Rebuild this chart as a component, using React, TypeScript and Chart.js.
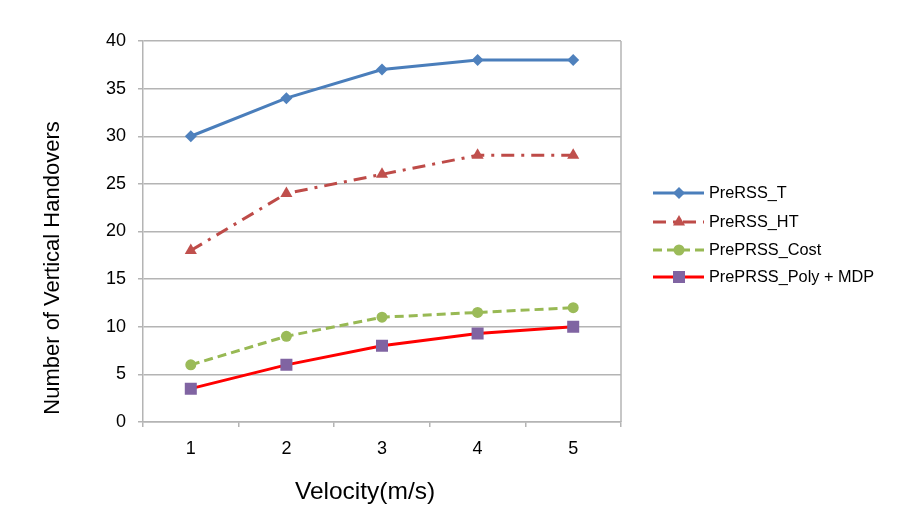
import React, { useEffect, useRef } from "react";
import { Chart, registerables } from "chart.js";

Chart.register(...registerables);

const velocity = ["1", "2", "3", "4", "5"];
const preRssT = [30, 34, 37, 38, 38];
const preRssHt = [18, 24, 26, 28, 28];
const prePrssCost = [6, 9, 11, 11.5, 12];
const prePrssPolyMdp = [3.5, 6, 8, 9.3, 10];

const FONT = "'Liberation Sans', Arial, sans-serif";
const GRID = "#b4b4b4";

type Marker = "diamond" | "triangle" | "circle" | "square";

function drawMarker(ctx: CanvasRenderingContext2D, kind: Marker, x: number, y: number, r: number, color: string) {
  ctx.save();
  ctx.fillStyle = color;
  ctx.beginPath();
  if (kind === "diamond") {
    ctx.moveTo(x - r, y);
    ctx.lineTo(x, y - r);
    ctx.lineTo(x + r, y);
    ctx.lineTo(x, y + r);
    ctx.closePath();
  } else if (kind === "triangle") {
    const h = r * 1.5;
    const s = r * Math.sqrt(3);
    ctx.moveTo(x, y - r);
    ctx.lineTo(x + s / 2, y - r + h);
    ctx.lineTo(x - s / 2, y - r + h);
    ctx.closePath();
  } else if (kind === "circle") {
    ctx.arc(x, y, r, 0, Math.PI * 2);
  } else {
    const s = r * Math.SQRT1_2;
    ctx.rect(x - s, y - s, 2 * s, 2 * s);
  }
  ctx.fill();
  ctx.restore();
}

const legendRows = [
  { label: "PreRSS_T", line: "#4a7ebb", marker: "#4f81bd", dash: [] as number[], shape: "diamond" as Marker, r: 6 },
  { label: "PreRSS_HT", line: "#be4b48", marker: "#c0504d", dash: [13, 7, 3, 7], shape: "triangle" as Marker, r: 7 },
  { label: "PrePRSS_Cost", line: "#98b954", marker: "#9bbb59", dash: [9, 5], shape: "circle" as Marker, r: 5.5 },
  { label: "PrePRSS_Poly + MDP", line: "#ff0000", marker: "#8064a2", dash: [] as number[], shape: "square" as Marker, r: 8.5 },
];

const decorPlugin = {
  id: "decor",
  beforeDatasetsDraw(chart: any) {
    const { ctx, chartArea } = chart;
    ctx.save();
    ctx.strokeStyle = GRID;
    ctx.lineWidth = 1.5;
    ctx.beginPath();
    ctx.moveTo(chartArea.right, chartArea.top);
    ctx.lineTo(chartArea.right, chartArea.bottom);
    ctx.stroke();
    ctx.restore();
  },
  afterDraw(chart: any) {
    const { ctx } = chart;
    ctx.save();
    // axis titles
    ctx.fillStyle = "#000";
    ctx.textAlign = "center";
    ctx.textBaseline = "middle";
    ctx.font = `24.5px ${FONT}`;
    ctx.fillText("Velocity(m/s)", 365, 492);
    ctx.save();
    ctx.translate(53, 268);
    ctx.rotate(-Math.PI / 2);
    ctx.font = `22px ${FONT}`;
    ctx.fillText("Number of Vertical Handovers", 0, 0);
    ctx.restore();

    // legend
    const ys = [193, 222, 250, 277];
    legendRows.forEach((row, i) => {
      const y = ys[i];
      ctx.save();
      ctx.strokeStyle = row.line;
      ctx.lineWidth = 3;
      ctx.setLineDash(row.dash);
      ctx.beginPath();
      ctx.moveTo(653, y);
      ctx.lineTo(704, y);
      ctx.stroke();
      ctx.restore();
      drawMarker(ctx, row.shape, 679, y, row.r, row.marker);
      ctx.fillStyle = "#000";
      ctx.textAlign = "left";
      ctx.textBaseline = "middle";
      ctx.font = `16.3px ${FONT}`;
      ctx.fillText(row.label, 709, y + 1);
    });
    ctx.restore();
  },
};

export default function App() {
  const ref = useRef<HTMLCanvasElement>(null);

  useEffect(() => {
    if (!ref.current) return;
    const chart = new Chart(ref.current, {
      type: "line",
      data: {
        labels: velocity,
        datasets: [
          {
            label: "PreRSS_T",
            data: preRssT,
            borderColor: "#4a7ebb",
            backgroundColor: "#4f81bd",
            borderWidth: 3,
            pointStyle: "rectRot",
            pointRadius: 6,
            pointBorderWidth: 0,
          },
          {
            label: "PreRSS_HT",
            data: preRssHt,
            borderColor: "#be4b48",
            backgroundColor: "#c0504d",
            borderWidth: 3,
            borderDash: [13, 7, 3, 7],
            pointStyle: "triangle",
            pointRadius: 7,
            pointBorderWidth: 0,
          },
          {
            label: "PrePRSS_Cost",
            data: prePrssCost,
            borderColor: "#98b954",
            backgroundColor: "#9bbb59",
            borderWidth: 3,
            borderDash: [9, 5],
            pointStyle: "circle",
            pointRadius: 5.5,
            pointBorderWidth: 0,
          },
          {
            label: "PrePRSS_Poly + MDP",
            data: prePrssPolyMdp,
            borderColor: "#ff0000",
            backgroundColor: "#8064a2",
            borderWidth: 3,
            pointStyle: "rect",
            pointRadius: 8.5,
            pointBorderWidth: 0,
          },
        ],
      },
      options: {
        animation: false,
        responsive: false,
        devicePixelRatio: 1,
        layout: { padding: { top: 41, right: 297, left: 0, bottom: 0 } },
        plugins: { legend: { display: false }, tooltip: { enabled: false } },
        elements: { line: { tension: 0 } },
        scales: {
          x: {
            type: "category",
            offset: true,
            afterFit: (s: any) => {
              s.height = 108;
            },
            grid: {
              display: true,
              drawOnChartArea: false,
              drawTicks: true,
              tickLength: 5,
              offset: true,
              color: GRID,
              lineWidth: 1.5,
            },
            border: { color: GRID, width: 1.5 },
            ticks: { color: "#000", font: { family: FONT, size: 18 }, padding: 11 },
          },
          y: {
            min: 0,
            max: 40,
            afterFit: (s: any) => {
              s.width = 143;
            },
            grid: { color: GRID, lineWidth: 1.5, tickLength: 5 },
            border: { color: GRID, width: 1.5 },
            ticks: { stepSize: 5, color: "#000", font: { family: FONT, size: 18 }, padding: 12 },
          },
        },
      },
      plugins: [decorPlugin],
    });
    return () => chart.destroy();
  }, []);

  return (
    <div style={{ position: "fixed", left: 0, top: 0, width: 918, height: 530, background: "#fff" }}>
      <canvas ref={ref} width={918} height={530} style={{ display: "block", width: 918, height: 530 }} />
    </div>
  );
}
